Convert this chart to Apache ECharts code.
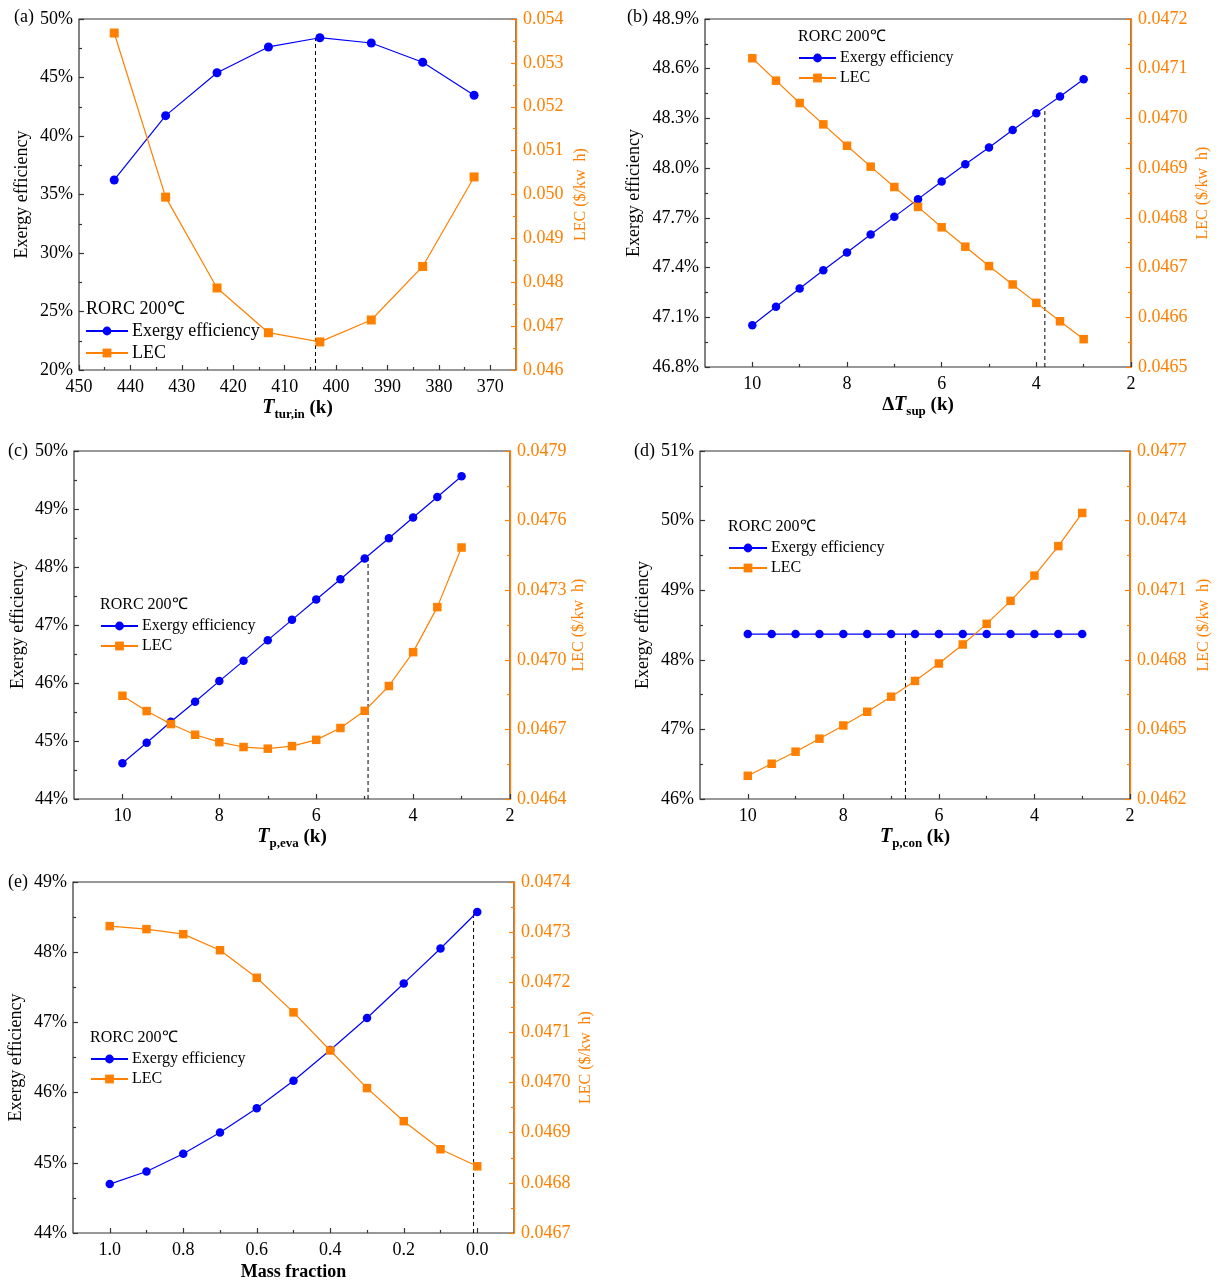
<!DOCTYPE html>
<html><head><meta charset="utf-8">
<script src="https://cdn.jsdelivr.net/npm/echarts@6/dist/echarts.min.js"></script>
<style>html,body{margin:0;padding:0;background:#fff}#c{width:1220px;height:1286px}</style>
</head><body><div id="c"></div>
<script>
// ---------------- DATA ----------------
// (a) turbine inlet temperature
const tTurIn = [443.15, 433.15, 423.15, 413.15, 403.15, 393.15, 383.15, 373.15];
const exA  = [36.24, 41.74, 45.41, 47.61, 48.40, 47.95, 46.30, 43.48];
const lecA = [0.05368, 0.04994, 0.04787, 0.04685, 0.04664, 0.04714, 0.04836, 0.05040];
// (b) superheat degree
const dTsup = [10, 9.5, 9, 8.5, 8, 7.5, 7, 6.5, 6, 5.5, 5, 4.5, 4, 3.5, 3];
const exB  = [47.052, 47.163, 47.274, 47.384, 47.491, 47.600, 47.706, 47.813, 47.920, 48.023, 48.125, 48.230, 48.332, 48.433, 48.536];
const lecB = [0.047121, 0.047076, 0.047031, 0.046988, 0.046945, 0.046903, 0.046862, 0.046822, 0.046781, 0.046742, 0.046703, 0.046666, 0.046629, 0.046592, 0.046556];
// (c) evaporator pinch
const tPeva = [10, 9.5, 9, 8.5, 8, 7.5, 7, 6.5, 6, 5.5, 5, 4.5, 4, 3.5, 3];
const exC  = [44.615, 44.970, 45.332, 45.676, 46.033, 46.382, 46.739, 47.089, 47.440, 47.790, 48.146, 48.496, 48.853, 49.208, 49.564];
const lecC = [0.046845, 0.046779, 0.046723, 0.046677, 0.046645, 0.046624, 0.046617, 0.046628, 0.046655, 0.046706, 0.046780, 0.046887, 0.047033, 0.047227, 0.047484];
// (d) condenser pinch
const tPcon = [10, 9.5, 9, 8.5, 8, 7.5, 7, 6.5, 6, 5.5, 5, 4.5, 4, 3.5, 3];
const exD  = [48.37, 48.37, 48.37, 48.37, 48.37, 48.37, 48.37, 48.37, 48.37, 48.37, 48.37, 48.37, 48.37, 48.37, 48.37];
const lecD = [0.046300, 0.046352, 0.046404, 0.046460, 0.046517, 0.046576, 0.046641, 0.046709, 0.046784, 0.046866, 0.046955, 0.047054, 0.047163, 0.047290, 0.047433];
// (e) mass fraction
const massFrac = [1.0, 0.9, 0.8, 0.7, 0.6, 0.5, 0.4, 0.3, 0.2, 0.1, 0.0];
const exE  = [44.697, 44.876, 45.128, 45.431, 45.778, 46.170, 46.607, 47.062, 47.555, 48.053, 48.573];
const lecE = [0.047312, 0.047306, 0.047296, 0.047264, 0.047209, 0.047140, 0.047064, 0.046989, 0.046923, 0.046867, 0.046833];

// optimum markers (dashed lines): x position and top (exergy %) value
const optX   = [404, 3.82, 4.93, 6.7, 0.01];
const optTop = [48.3, 48.35, 48.2, 48.37, 48.55];

// tick labels
const xTicksA = [450, 440, 430, 420, 410, 400, 390, 380, 370];
const xMinorA = [445, 435, 425, 415, 405, 395, 385, 375];
const xTicksBCD = [10, 8, 6, 4, 2];
const xMinorBCD = [9, 7, 5, 3];
const xTicksE = [1.0, 0.8, 0.6, 0.4, 0.2, 0.0];
const xMinorE = [0.9, 0.7, 0.5, 0.3, 0.1];

const legendNames = ['Exergy efficiency', 'LEC'];
const caseLabel = 'RORC 200℃';
const panelLabels = ['(a)', '(b)', '(c)', '(d)', '(e)'];

// ---------------- STYLE / LAYOUT ----------------
const FONT = "'Liberation Serif','Times New Roman',serif";
const BLUE = '#0000FF', ORANGE = '#FF8000', AX = '#333333';

const xNameRich = {
  d: {fontSize: 19, fontWeight: 'bold', fontFamily: FONT, color: '#000', lineHeight: 26},
  t: {fontSize: 20, fontWeight: 'bold', fontStyle: 'italic', fontFamily: FONT, color: '#000', lineHeight: 26},
  s: {fontSize: 13, fontWeight: 'bold', fontFamily: FONT, color: '#000', lineHeight: 13, verticalAlign: 'bottom'},
  k: {fontSize: 19, fontWeight: 'bold', fontFamily: FONT, color: '#000', lineHeight: 26}
};

const panels = [
  {grid: {left: 79, top: 19, width: 437, height: 351}, x: tTurIn, ex: exA, lec: lecA,
   xr: [365, 450], xt: xTicksA, xm: xMinorA, xf: v => String(v),
   xName: '{t|T}{s|tur,in}{k| (k)}',
   yl: [20, 50, 5], ylf: v => v.toFixed(0) + '%', yr: [0.046, 0.054, 0.001], yrf: v => v.toFixed(3),
   lgap: 48, rgap: 57, sym: 9,
   leg: {left: 85, top: 322, iw: 42, fs: 18, gap: 4}, cap: {x: 86, y: 310, fs: 18}, lab: {x: 14, y: 18}},
  {grid: {left: 705, top: 19, width: 426, height: 348}, x: dTsup, ex: exB, lec: lecB,
   xr: [2, 11], xt: xTicksBCD, xm: xMinorBCD, xf: v => String(v),
   xName: '{d|Δ}{t|T}{s|sup}{k| (k)}',
   yl: [46.8, 48.9, 0.3], ylf: v => v.toFixed(1) + '%', yr: [0.0465, 0.0472, 0.0001], yrf: v => v.toFixed(4),
   lgap: 62, rgap: 64, sym: 8.5,
   leg: {left: 798, top: 50, iw: 37, fs: 16, gap: 4}, cap: {x: 798, y: 38, fs: 16}, lab: {x: 627, y: 18}},
  {grid: {left: 74, top: 451, width: 436, height: 348}, x: tPeva, ex: exC, lec: lecC,
   xr: [2, 11], xt: xTicksBCD, xm: xMinorBCD, xf: v => String(v),
   xName: '{t|T}{s|p,eva}{k| (k)}',
   yl: [44, 50, 1], ylf: v => v.toFixed(0) + '%', yr: [0.0464, 0.0479, 0.0003], yrf: v => v.toFixed(4),
   lgap: 47, rgap: 61, sym: 8.5,
   leg: {left: 100, top: 618, iw: 37, fs: 16, gap: 4}, cap: {x: 100, y: 606, fs: 16}, lab: {x: 8, y: 452}},
  {grid: {left: 700, top: 451, width: 430, height: 348}, x: tPcon, ex: exD, lec: lecD,
   xr: [2, 11], xt: xTicksBCD, xm: xMinorBCD, xf: v => String(v),
   xName: '{t|T}{s|p,con}{k| (k)}',
   yl: [46, 51, 1], ylf: v => v.toFixed(0) + '%', yr: [0.0462, 0.0477, 0.0003], yrf: v => v.toFixed(4),
   lgap: 48, rgap: 66, sym: 8.5,
   leg: {left: 728, top: 540, iw: 38, fs: 16, gap: 4}, cap: {x: 728, y: 528, fs: 16}, lab: {x: 634, y: 452}},
  {grid: {left: 73, top: 882, width: 441, height: 351}, x: massFrac, ex: exE, lec: lecE,
   xr: [-0.1, 1.1], xt: xTicksE, xm: xMinorE, xf: v => v.toFixed(1),
   xName: 'Mass fraction',
   yl: [44, 49, 1], ylf: v => v.toFixed(0) + '%', yr: [0.0467, 0.0474, 0.0001], yrf: v => v.toFixed(4),
   lgap: 48, rgap: 64, sym: 8.5,
   leg: {left: 90, top: 1051, iw: 37, fs: 16, gap: 4}, cap: {x: 90, y: 1039, fs: 16}, lab: {x: 8, y: 883}}
];

const grid = [], xAxis = [], yAxis = [], series = [], legend = [], graphic = [];

panels.forEach((p, i) => {
  grid.push(Object.assign({show: true, borderColor: AX, borderWidth: 1.2, backgroundColor: 'transparent'}, p.grid));
  const isMass = p.xName === 'Mass fraction';
  // main x axis (labels + major ticks)
  xAxis.push({
    type: 'value', gridIndex: i, min: p.xr[0], max: p.xr[1], inverse: true, position: 'bottom',
    axisLine: {show: false, onZero: false},
    axisTick: {show: true, inside: true, length: 5, customValues: p.xt, lineStyle: {color: AX, width: 1.2}},
    axisLabel: {customValues: p.xt, formatter: p.xf, fontSize: 18, color: '#000', fontFamily: FONT, margin: 8},
    splitLine: {show: false},
    name: p.xName, nameLocation: 'middle', nameGap: isMass ? 30 : 25,
    nameTextStyle: isMass ? {fontSize: 18, fontWeight: 'bold', fontFamily: FONT, color: '#000'}
                          : {rich: xNameRich, fontFamily: FONT, color: '#000'}
  });
  // minor tick overlay
  xAxis.push({
    type: 'value', gridIndex: i, min: p.xr[0], max: p.xr[1], inverse: true, position: 'bottom',
    axisLine: {show: false, onZero: false},
    axisTick: {show: true, inside: true, length: 3, customValues: p.xm, lineStyle: {color: AX, width: 1.2}},
    axisLabel: {show: false}, splitLine: {show: false}
  });
  yAxis.push({
    type: 'value', gridIndex: i, min: p.yl[0], max: p.yl[1], interval: p.yl[2], position: 'left',
    axisLine: {show: false, onZero: false},
    axisTick: {show: true, inside: true, length: 5, lineStyle: {color: AX, width: 1.2}},
    minorTick: {show: true, splitNumber: 2, length: 3, lineStyle: {color: AX, width: 1.2}},
    axisLabel: {formatter: p.ylf, fontSize: 18, color: '#000', fontFamily: FONT, margin: 6},
    splitLine: {show: false}, minorSplitLine: {show: false},
    name: 'Exergy efficiency', nameLocation: 'middle', nameGap: p.lgap, nameRotate: 90,
    nameTextStyle: {fontSize: 18, color: '#000', fontFamily: FONT}
  });
  yAxis.push({
    type: 'value', gridIndex: i, min: p.yr[0], max: p.yr[1], interval: p.yr[2], position: 'right',
    axisLine: {show: true, onZero: false, lineStyle: {color: ORANGE, width: 1.3}},
    axisTick: {show: true, inside: true, length: 5, lineStyle: {color: ORANGE, width: 1.2}},
    minorTick: {show: true, splitNumber: 2, length: 3, lineStyle: {color: ORANGE, width: 1.2}},
    axisLabel: {formatter: p.yrf, fontSize: 18, color: ORANGE, fontFamily: FONT, margin: 7},
    splitLine: {show: false}, minorSplitLine: {show: false},
    name: 'LEC ($/kw  h)', nameLocation: 'middle', nameGap: p.rgap, nameRotate: 90,
    nameTextStyle: {fontSize: 16, color: ORANGE, fontFamily: FONT}
  });
  const xi = i * 2, yl = i * 2, yr = i * 2 + 1;
  series.push({
    type: 'line', name: 'dash' + i, xAxisIndex: xi, yAxisIndex: yl, silent: true, symbol: 'none',
    data: [[optX[i], p.yl[0]], [optX[i], optTop[i]]],
    lineStyle: {type: [4, 3], color: '#000', width: 1}, z: 1
  });
  series.push({
    type: 'line', name: legendNames[0], xAxisIndex: xi, yAxisIndex: yl,
    data: p.x.map((v, k) => [v, p.ex[k]]),
    symbol: 'circle', symbolSize: p.sym,
    lineStyle: {color: BLUE, width: 1.2}, itemStyle: {color: BLUE}, z: 3
  });
  series.push({
    type: 'line', name: legendNames[1], xAxisIndex: xi, yAxisIndex: yr,
    data: p.x.map((v, k) => [v, p.lec[k]]),
    symbol: 'rect', symbolSize: p.sym,
    lineStyle: {color: ORANGE, width: 1.2}, itemStyle: {color: ORANGE}, z: 3
  });
  legend.push({
    data: legendNames, orient: 'vertical', left: p.leg.left, top: p.leg.top, padding: 0,
    itemWidth: p.leg.iw, itemHeight: 11, itemGap: p.leg.gap, selectedMode: false,
    textStyle: {fontSize: p.leg.fs, color: '#000', fontFamily: FONT, padding: [0, 0, 0, -1]}
  });
  graphic.push({
    type: 'text', left: p.cap.x, top: p.cap.y - p.cap.fs / 2 - 1,
    style: {text: caseLabel, fontSize: p.cap.fs, fontFamily: FONT, fill: '#000'}
  });
  graphic.push({
    type: 'text', left: p.lab.x, top: p.lab.y - 10,
    style: {text: panelLabels[i], fontSize: 18, fontFamily: FONT, fill: '#000'}
  });
});

const chart = echarts.init(document.getElementById('c'), null, {renderer: 'canvas'});
chart.setOption({
  animation: false, backgroundColor: '#fff',
  grid, xAxis, yAxis, series, legend, graphic
});
</script></body></html>
